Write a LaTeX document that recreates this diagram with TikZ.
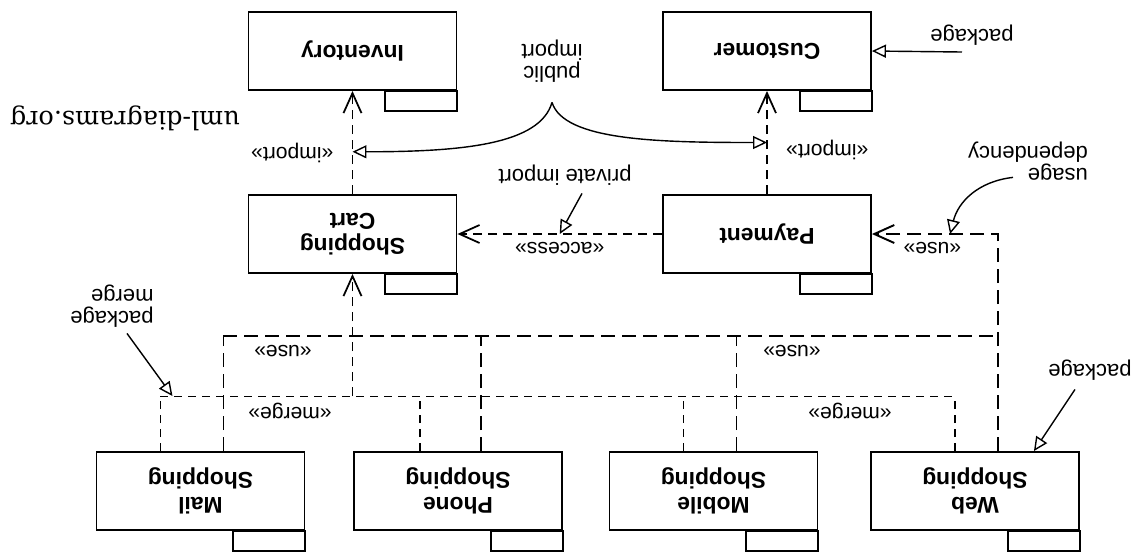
\documentclass[tikz,border=0pt]{standalone}
\usepackage{fontspec}
\setmainfont{Liberation Sans}
\newfontfamily\wmfont{DejaVu Serif}
\usetikzlibrary{calc,positioning,arrows.meta}

\tikzset{
  pkg/.style={draw,line width=1.1pt,minimum width=4.16cm,minimum height=1.56cm,inner sep=0pt,
    align=center,font=\fontsize{13}{14}\selectfont\bfseries},
  imp/.style={line width=1pt,dash pattern=on 1.8mm off 1.2mm,-{Straight Barb[length=4mm,width=3.6mm]}},
  useline/.style={line width=1.1pt,dash pattern=on 2.8mm off 1.4mm},
  mrg/.style={line width=0.6pt,dash pattern=on 1.6mm off 1.2mm},
  note/.style={line width=0.8pt,-{Triangle[open,length=2.8mm,width=2.6mm]}},
  txt/.style={font=\fontsize{12.5}{12.5}\selectfont,align=left},
  ster/.style={font=\fontsize{12}{14}\selectfont}
}

\begin{document}
\begin{tikzpicture}[x=0.02cm,y=0.02cm,rotate=180,transform shape]
\useasboundingbox (0,0) rectangle (1145,552);

% packages
\node[pkg] (mail) at (944.5,491) {Mail\\Shopping};
\node[pkg] (phone) at (687,491) {Phone\\Shopping};
\node[pkg] (mobile) at (431.5,491) {Mobile\\Shopping};
\node[pkg] (web) at (170,491) {Web\\Shopping};
\node[pkg] (cart) at (792.5,234) {Shopping\\Cart};
\node[pkg] (pay) at (378,234) {Payment};
\node[pkg] (inv) at (792.5,51) {Inventory};
\node[pkg] (cust) at (378,51) {Customer};
% tabs
\foreach \p in {mail,phone,mobile,web,cart,pay,inv,cust}
  \draw[line width=1.1pt] (\p.north west) rectangle ++(72,20);

% import
\draw[imp] (cart.south) -- (inv.north) coordinate[pos=0.41] (impL)
  node[pos=0.4,ster,right=2.5mm] {«import»};
\draw[imp] (pay.south) -- (cust.north) coordinate[pos=0.5] (impR)
  node[pos=0.43,ster,left=2.5mm] {«import»};

% access
\draw[imp] (pay.east) -- (cart.west) coordinate[midway] (accM)
  node[midway,above=0.3mm,ster] {«access»};

% use
\draw[useline,-{Straight Barb[length=4mm,width=3.6mm]}] ($(web.south)+(-23,0)$) coordinate (useW)
  |- (pay.west) coordinate[pos=0.69] (useM) node[pos=0.76,above=0.3mm,ster] {«use»};
\foreach \p in {mail,phone,mobile}
  \draw[useline] ($(\p.south)+(-23,0)$) -- ++(0,-115);
\draw[useline] ($(mail.south)+(-23,-115)$) coordinate (useL) -- (useL -| useW);
\node[ster] (useA) at (862,351) {«use»};
\node[ster] (useB) at (353,351) {«use»};

% merge
\foreach \p/\m in {mail/40,phone/38,mobile/30,web/20}
  \draw[mrg] ($(\p.south)+(\m,0)$) -- ++(0,-55);
\draw[mrg] ($(mail.south)+(40,-55)$) coordinate (mrgL) -- ($(web.south)+(20,-55)$) coordinate (mrgR);
\draw[imp] (mrgL -| cart.north) -- (cart.north);
\node[ster] (mrgA) at (855,411) {«merge»};
\node[ster] (mrgB) at (295,411) {«merge»};

% notes
\node[txt,align=center] (pub) at (593,61) {public\\import};
\coordinate (cusp) at ($(pub.north)+(0,14)$);
\draw[note] (cusp) .. controls +(-12,38) and +(110,0) .. (impR);
\draw[note] (cusp) .. controls +(12,42) and +(-110,0) .. (impL);

\node[txt] (priv) at (580,175) {private import};
\draw[note] ($(priv.north)+(-17,2)$) -- (accM);

\node[txt] (usg) at (117,161) {usage\\dependency};
\draw[note] ($(usg.north)+(15,-9)$) .. controls +(35,4) and +(-8,-32) .. (useM);

\node[txt] (pkgA) at (173,35) {package};
\draw[note] ($(cust.west -| pkgA.north)+(10,1)$) -- (cust.west);

\node[txt] (pm) at (1033,306) {package\\merge};
\coordinate (pmtip) at ($(mrgL)+(-12,0)$);
\draw[note] ($(pm.north)+(-15,0)$) -- (pmtip);

\node[txt] (pkgB) at (55,370) {package};
\draw[note] ($(pkgB.north)+(15,3)$) -- ($(web.south west)+(46,0)$);

% watermark
\node[font=\wmfont\fontsize{14.5}{16}\selectfont] (wm) at (1020,118) {uml-diagrams.org};
\end{tikzpicture}
\end{document}
